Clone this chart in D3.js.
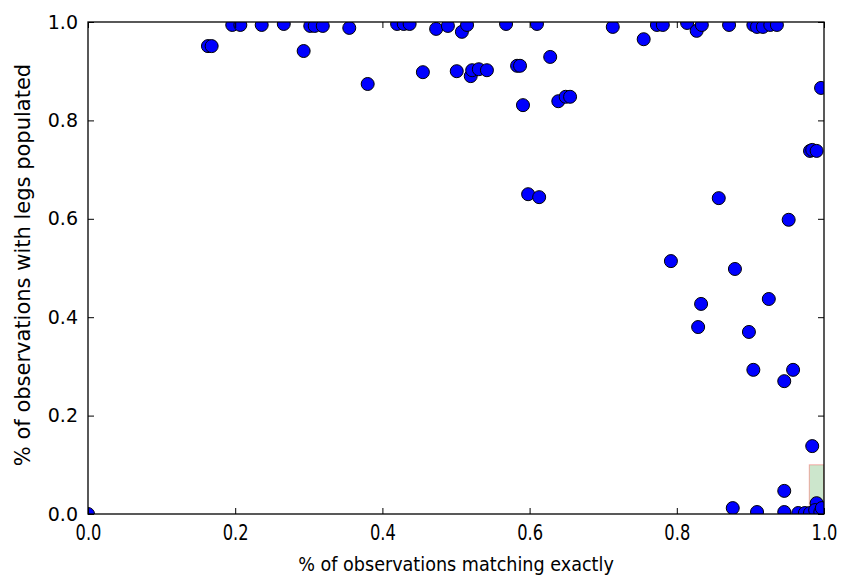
<!DOCTYPE html>
<html>
<head>
<meta charset="utf-8">
<script src="https://cdn.jsdelivr.net/npm/d3@7"></script>
<style>
  html, body { margin: 0; padding: 0; background: #fff; }
  svg { display: block; }
</style>
</head>
<body>
<svg id="chart"></svg>
<script>
// share of observations matching exactly (x) vs share with legs populated (y)
const matchPct = [
  0.000, 0.163, 0.168, 0.196, 0.207, 0.236, 0.266, 0.293, 0.302, 0.308,
  0.319, 0.355, 0.380, 0.420, 0.429, 0.437, 0.455, 0.473, 0.489, 0.501,
  0.508, 0.515, 0.520, 0.522, 0.531, 0.542, 0.568, 0.583, 0.587, 0.591,
  0.598, 0.610, 0.613, 0.628, 0.639, 0.649, 0.655, 0.713, 0.755, 0.773,
  0.781, 0.792, 0.814, 0.827, 0.834, 0.833, 0.829, 0.857, 0.871, 0.876,
  0.879, 0.898, 0.904, 0.904, 0.909, 0.909, 0.917, 0.925, 0.927, 0.936,
  0.946, 0.946, 0.946, 0.952, 0.958, 0.965, 0.974, 0.981, 0.984, 0.990,
  0.981, 0.984, 0.990, 0.988, 0.995, 0.997, 0.996
];
const legsPct = [
  0.000, 0.951, 0.951, 0.994, 0.994, 0.994, 0.996, 0.941, 0.992, 0.992,
  0.992, 0.988, 0.874, 0.996, 0.996, 0.996, 0.898, 0.986, 0.992, 0.900,
  0.980, 0.994, 0.890, 0.902, 0.904, 0.902, 0.996, 0.911, 0.911, 0.831,
  0.650, 0.996, 0.644, 0.929, 0.839, 0.848, 0.848, 0.990, 0.965, 0.994,
  0.994, 0.514, 0.998, 0.982, 0.994, 0.427, 0.380, 0.642, 0.994, 0.012,
  0.498, 0.370, 0.293, 0.994, 0.990, 0.004, 0.990, 0.437, 0.994, 0.994,
  0.270, 0.047, 0.004, 0.598, 0.293, 0.002, 0.002, 0.738, 0.740, 0.738,
  0.002, 0.138, 0.022, 0.008, 0.004, 0.012, 0.866
];
const xTicks = [0, 0.2, 0.4, 0.6, 0.8, 1.0];
const yTicks = [0, 0.2, 0.4, 0.6, 0.8, 1.0];
// shaded target box: [x0, x1] x [y0, y1]
const boxX = [0.98, 1.0];
const boxY = [0.0, 0.1];

const W = 843, H = 581;
const M = { left: 88, right: 19, top: 22, bottom: 67 };
const iw = W - M.left - M.right, ih = H - M.top - M.bottom;
const FONT = "DejaVu Sans, sans-serif";

const svg = d3.select("#chart").attr("width", W).attr("height", H);

const x = d3.scaleLinear().domain([0, 1]).range([0, iw]);
const y = d3.scaleLinear().domain([0, 1]).range([ih, 0]);

svg.append("defs").append("clipPath").attr("id", "clip")
  .append("rect").attr("width", iw).attr("height", ih);

const g = svg.append("g").attr("transform", `translate(${M.left},${M.top})`);

const plot = g.append("g").attr("clip-path", "url(#clip)");

plot.append("rect")
  .attr("x", x(boxX[0])).attr("y", y(boxY[1]))
  .attr("width", x(boxX[1]) - x(boxX[0]))
  .attr("height", y(boxY[0]) - y(boxY[1]))
  .attr("fill", "rgba(0,128,0,0.2)")
  .attr("stroke", "rgba(255,0,0,0.3)")
  .attr("stroke-width", 1);

const pts = matchPct.map((v, i) => ({ x: v, y: legsPct[i] }));
plot.selectAll("circle.pt")
  .data(pts).enter().append("circle")
  .attr("class", "pt")
  .attr("cx", d => x(d.x))
  .attr("cy", d => y(d.y))
  .attr("r", 6.5)
  .attr("fill", "#0000ff")
  .attr("stroke", "#000")
  .attr("stroke-width", 1);

// ticks inward on all four sides (classic style)
const tl = 6;
const xb = d3.axisBottom(x).tickValues(xTicks).tickSizeInner(-tl).tickSizeOuter(0).tickPadding(10).tickFormat(d3.format(".1f"));
const xt = d3.axisTop(x).tickValues(xTicks).tickSizeInner(-tl).tickSizeOuter(0).tickFormat("");
const yl = d3.axisLeft(y).tickValues(yTicks).tickSizeInner(-tl).tickSizeOuter(0).tickPadding(10).tickFormat(d3.format(".1f"));
const yr = d3.axisRight(y).tickValues(yTicks).tickSizeInner(-tl).tickSizeOuter(0).tickFormat("");

function style(sel, size) {
  sel.select(".domain").remove();
  sel.selectAll(".tick line").attr("stroke", "#000").attr("stroke-width", 1);
  sel.selectAll(".tick text").attr("fill", "#000").attr("font-family", FONT).attr("font-size", size);
}
const xAxisG = g.append("g").attr("transform", `translate(0,${ih})`).call(xb).call(style, 22);
// x tick labels in the reference are tall and narrow
xAxisG.selectAll(".tick text").attr("transform", "scale(0.74,1)");
g.append("g").call(xt).call(style, 16);
g.append("g").call(yl).call(style, 19);
g.append("g").attr("transform", `translate(${iw},0)`).call(yr).call(style, 16);

g.append("rect")
  .attr("width", iw).attr("height", ih)
  .attr("fill", "none").attr("stroke", "#000").attr("stroke-width", 1.3);

svg.append("text")
  .attr("transform", `translate(${M.left + iw / 2},571) scale(0.88,1)`)
  .attr("text-anchor", "middle")
  .attr("font-family", FONT).attr("font-size", 20)
  .text("% of observations matching exactly");

svg.append("text")
  .attr("transform", `translate(30,${M.top + ih / 2 - 3}) rotate(-90)`)
  .attr("text-anchor", "middle")
  .attr("font-family", FONT).attr("font-size", 21)
  .text("% of observations with legs populated");
</script>
</body>
</html>
